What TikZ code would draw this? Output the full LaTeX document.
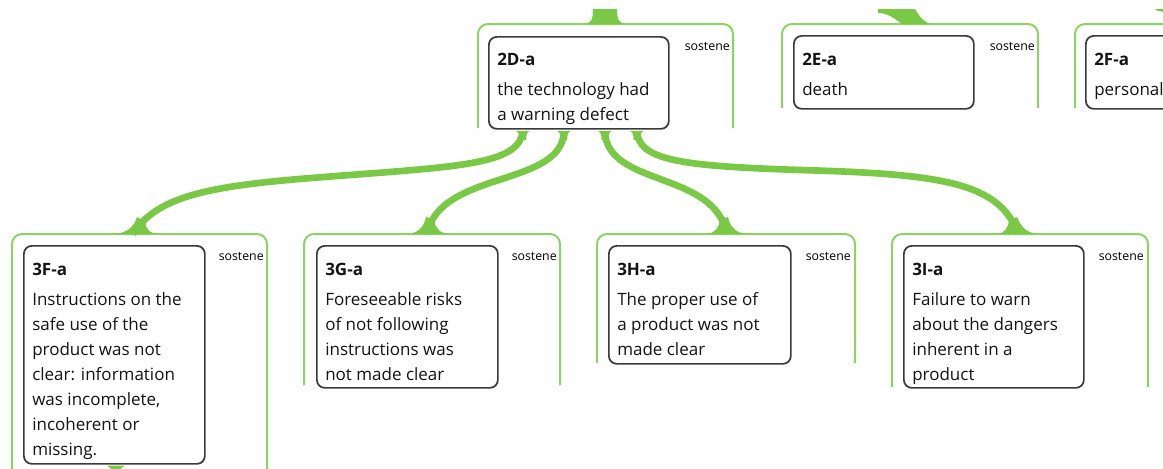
\documentclass[tikz,border=0pt]{standalone}
\usepackage{fontspec}
\setmainfont{Open Sans}
\usetikzlibrary{calc}
\definecolor{brgreen}{RGB}{122,201,70}
\definecolor{cgreen}{RGB}{140,211,100}
\definecolor{boxgray}{RGB}{58,58,58}
\definecolor{txt}{RGB}{20,20,20}
\begin{document}
\begin{tikzpicture}[x=0.75pt,y=-0.75pt,
  container/.style={draw=cgreen, line width=1.5pt, rounded corners=7.5pt},
  card/.style={draw=boxgray, line width=1.3pt, rounded corners=6pt, fill=white, inner sep=0pt, anchor=north west},
  cardtext/.style={anchor=base west, inner sep=0pt, align=left, font=\fontsize{12.75pt}{18.75pt}\selectfont, text=txt},
  ownertag/.style={anchor=base east, inner sep=0pt, font=\fontsize{9.25pt}{11pt}\selectfont, text=black},
  branch/.style={draw=brgreen, line width=5pt},
  flare/.style={fill=brgreen, draw=none}]
\useasboundingbox (0,0) rectangle (1163,468);
\clip (0,0) rectangle (1163,468);

% containers (open at the bottom)
\draw[container] (478,128) -- (478,24) -- (733,24) -- (733,128);
\draw[container] (782,108) -- (782,24) -- (1038,24) -- (1038,108);
\draw[container] (1075,108) -- (1075,24) -- (1200,24);
\draw[container] (12,470) -- (12,234) -- (267,234) -- (267,470);
\draw[container] (304,385) -- (304,234) -- (560,234) -- (560,385);
\draw[container] (597,363) -- (597,234) -- (855,234) -- (855,363);
\draw[container] (892,387) -- (892,234) -- (1148,234) -- (1148,387);

% incoming branches from above
\coordinate (t2D) at (605,24);
\coordinate (t2E) at (905,24);
\fill[flare] ($(t2D)+(-22,0)$) .. controls ($(t2D)+(-14,0)$) and ($(t2D)+(-12,-4)$) .. ($(t2D)+(-12,-15)$)
  -- ($(t2D)+(12,-15)$) .. controls ($(t2D)+(12,-4)$) and ($(t2D)+(14,0)$) .. ($(t2D)+(22,0)$) -- cycle;
\fill[flare] ($(t2E)+(-27,-15)$) -- ($(t2E)+(10,-15)$) .. controls ($(t2E)+(15,-7)$) and ($(t2E)+(19,-1)$) .. ($(t2E)+(27,0)$)
  -- ($(t2E)+(-3,0)$) .. controls ($(t2E)+(-10,-5)$) and ($(t2E)+(-17,-11)$) .. ($(t2E)+(-27,-11)$) -- cycle;
\fill[flare] (1155,9) -- (1164,9) -- (1164,12) -- (1158,11) -- cycle;

% cards
\node[card, minimum width=135pt, minimum height=69pt] (b2D) at (488,36) {};
\node[card, minimum width=135pt, minimum height=54.75pt] (b2E) at (793,35) {};
\node[card, minimum width=135pt, minimum height=54.75pt] (b2F) at (1085,35) {};
\node[card, minimum width=135.75pt, minimum height=163.5pt] (b3F) at (23,245) {};
\node[card, minimum width=135.75pt, minimum height=106.5pt] (b3G) at (316,245) {};
\node[card, minimum width=136.5pt, minimum height=88.5pt] (b3H) at (608,245) {};
\node[card, minimum width=135pt, minimum height=106.5pt] (b3I) at (903,245) {};

% card texts (anchored at the baseline of their last line)
\node[cardtext] (x2D) at ($(b2D.north west)+(9,84)$) {\textbf{2D-a}\\[3.75pt]the technology had\\a warning defect};
\node[cardtext] (x2E) at ($(b2E.north west)+(9,60)$) {\textbf{2E-a}\\[3.75pt]death};
\node[cardtext] (x2F) at ($(b2F.north west)+(9,60)$) {\textbf{2F-a}\\[3.75pt]personal};
\node[cardtext] (x3F) at ($(b3F.north west)+(9,210)$) {\textbf{3F-a}\\[3.75pt]Instructions on the\\safe use of the\\product was not\\clear: information\\was incomplete,\\incoherent or\\missing.};
\node[cardtext] (x3G) at ($(b3G.north west)+(9,135)$) {\textbf{3G-a}\\[3.75pt]Foreseeable risks\\of not following\\instructions was\\not made clear};
\node[cardtext] (x3H) at ($(b3H.north west)+(9,110)$) {\textbf{3H-a}\\[3.75pt]The proper use of\\a product was not\\made clear};
\node[cardtext] (x3I) at ($(b3I.north west)+(9,135)$) {\textbf{3I-a}\\[3.75pt]Failure to warn\\about the dangers\\inherent in a\\product};

% owner tags
\node[ownertag] (o2D) at (730,50) {sostene};
\node[ownertag] (o2E) at (1035,50) {sostene};
\node[ownertag] (o3F) at (264,260) {sostene};
\node[ownertag] (o3G) at (557,260) {sostene};
\node[ownertag] (o3H) at (851,260) {sostene};
\node[ownertag] (o3I) at (1144,260) {sostene};

% branch roots and feet
\coordinate (r1) at ($(b2D.south)+(-56,1.5)$);
\coordinate (r2) at ($(b2D.south)+(-15,1.5)$);
\coordinate (r3) at ($(b2D.south)+(26,1.5)$);
\coordinate (r4) at ($(b2D.south)+(58,1.5)$);
\coordinate (m3F) at (350,175);
\coordinate (m3I) at (800,170);
\coordinate (f3F) at (133,234);
\coordinate (f3G) at (427,234);
\coordinate (f3H) at (727,234);
\coordinate (f3I) at (1018,234);

\draw[branch] (r1) .. controls +(-4,31) and +(120,-9) .. (m3F) .. controls +(-120,9) and +(27,-44) .. (f3F);
\draw[branch] (r2) .. controls +(-1,56) and +(13,-64) .. (f3G);
\draw[branch] (r3) .. controls +(2,56) and +(-13,-64) .. (f3H);
\draw[branch] (r4) .. controls +(2,29) and +(-120,-4) .. (m3I) .. controls +(140,4) and +(-18,-52) .. (f3I);

\foreach \r in {r1,r2,r3,r4}{
  \fill[flare] ($(\r)+(-6.5,0)$) .. controls ($(\r)+(-4,1)$) and ($(\r)+(-3.3,4)$) .. ($(\r)+(-3.3,9)$)
    -- ($(\r)+(3.3,9)$) .. controls ($(\r)+(3.3,4)$) and ($(\r)+(4,1)$) .. ($(\r)+(6.5,0)$) -- cycle;
}
\fill[flare] ($(f3F)+(-19,0)$) .. controls ($(f3F)+(-6,-1)$) and ($(f3F)+(1,-7)$) .. ($(f3F)+(4,-17)$)
  -- ($(f3F)+(12,-13)$) .. controls ($(f3F)+(13,-4)$) and ($(f3F)+(17,-0.5)$) .. ($(f3F)+(25,0)$) -- cycle;
\fill[flare] ($(f3G)+(-20,0)$) .. controls ($(f3G)+(-9,-0.5)$) and ($(f3G)+(-3,-7)$) .. ($(f3G)+(-1,-17)$)
  -- ($(f3G)+(7,-15)$) .. controls ($(f3G)+(8,-6)$) and ($(f3G)+(13,-0.5)$) .. ($(f3G)+(22,0)$) -- cycle;
\fill[flare] ($(f3H)+(-21,0)$) .. controls ($(f3H)+(-12,-0.5)$) and ($(f3H)+(-8,-6)$) .. ($(f3H)+(-7,-15)$)
  -- ($(f3H)+(1,-17)$) .. controls ($(f3H)+(3,-7)$) and ($(f3H)+(9,-0.5)$) .. ($(f3H)+(21,0)$) -- cycle;
\fill[flare] ($(f3I)+(-22,0)$) .. controls ($(f3I)+(-13,-0.5)$) and ($(f3I)+(-10,-6)$) .. ($(f3I)+(-9,-14)$)
  -- ($(f3I)+(-1,-17)$) .. controls ($(f3I)+(3,-7)$) and ($(f3I)+(9,-0.5)$) .. ($(f3I)+(21,0)$) -- cycle;

% outgoing stub below 3F
\fill[flare] ($(b3F.south)+(-7,1)$) -- ($(b3F.south)+(10,1)$) -- ($(b3F.south)+(4,6)$) -- ($(b3F.south)+(-1,6)$) -- cycle;
\end{tikzpicture}
\end{document}
